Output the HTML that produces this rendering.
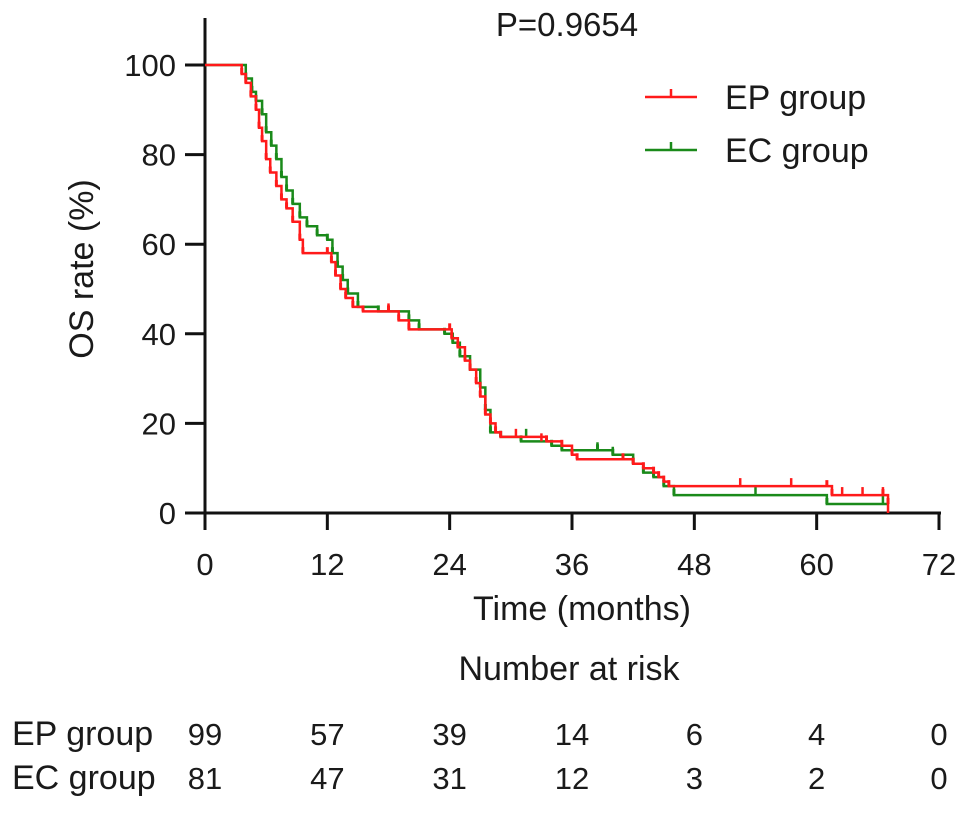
<!DOCTYPE html>
<html><head><meta charset="utf-8"><style>
body{margin:0;background:#fff}
svg text{font-family:"Liberation Sans",Arial,sans-serif;fill:#1a1a1a}
</style></head><body>
<svg width="969" height="810" viewBox="0 0 969 810" id="chart">
<text x="567" y="36" font-size="33" text-anchor="middle">P=0.9654</text>
<text transform="translate(93,269) rotate(-90)" font-size="34" text-anchor="middle">OS rate (%)</text>
<text x="582" y="620" font-size="34" text-anchor="middle">Time (months)</text>
<text x="569" y="680" font-size="34" text-anchor="middle">Number at risk</text>
<text x="12" y="745" font-size="34">EP group</text>
<text x="12" y="789" font-size="34">EC group</text>
<g id="axes"></g>
<g id="series"></g>
<g id="legend">
<line x1="645" y1="97" x2="697" y2="97" stroke="#ff1a1a" stroke-width="2.5"/>
<line x1="671" y1="89" x2="671" y2="97" stroke="#ff1a1a" stroke-width="2.5"/>
<text x="725" y="109" font-size="34">EP group</text>
<line x1="645" y1="150" x2="697" y2="150" stroke="#1a8a1a" stroke-width="2.5"/>
<line x1="671" y1="142" x2="671" y2="150" stroke="#1a8a1a" stroke-width="2.5"/>
<text x="725" y="162" font-size="34">EC group</text>
</g>
<g id="risk"></g>
</svg>
<script>
const xTicks=[0,12,24,36,48,60,72];
const yTicks=[0,20,40,60,80,100];
const epT=[0,3.3,3.6,4,4.5,5,5.3,5.6,6,6.4,7,7.5,8,8.6,9.3,9.6,12,12.4,12.8,13.3,13.8,14.5,15.5,18,19,20,24,24.2,24.8,25.5,26,26.6,27,27.5,28,28.5,29,33.5,35,36,36.5,41,42,43,44,44.5,45,45.5,61,61.5,66.5,67,67];
const epS=[100,100,98,96,93,90,86,83,79,76,73,70,68,65,61,58,58,56,53,50,48,46,45,45,43,41,41,39,37,34,32,29,26,22,20,18,17,16,15,13,12,12,11,10,9,8,7,6,6,4,4,2,0];
const ecT=[0,3.5,4,4.6,5,5.6,6,6.5,7,7.5,8,8.6,9.3,10,11,12,12.5,13,13.5,14,15,17,20,21,23.5,24.3,25,26,27,27.5,28,29,31,34,35,38.5,40,42,43,44,45,46,61,67];
const ecS=[100,100,97,94,92,89,85,82,79,75,72,69,66,64,62,61,58,55,52,49,46,45,43,41,40,38,35,32,28,23,18,17,16,15,14,14,13,11,9,8,6,4,2,2];
const epCens=[[18,45],[30.5,17],[33,16],[52.5,6],[57.5,6],[62.5,4],[64.5,4],[66.5,4]];
const ecCens=[[31.5,17],[38.5,14],[40,13],[54,4],[66.5,2]];
const riskEP=[99,57,39,14,6,4,0];
const riskEC=[81,47,31,12,3,2,0];
const NS="http://www.w3.org/2000/svg";
const X=t=>205+t*(939-205)/72, Y=s=>513-s*4.48;
function mk(tag,attrs,parent){const e=document.createElementNS(NS,tag);for(const k in attrs)e.setAttribute(k,attrs[k]);document.getElementById(parent).appendChild(e);return e;}
let e=mk('line',{x1:205,y1:513,x2:941,y2:513,stroke:'#111','stroke-width':3},'axes');


e=mk('line',{x1:205,y1:18,x2:205,y2:514,stroke:'#111','stroke-width':3},'axes');


xTicks.forEach((v,i)=>{
 mk('line',{x1:X(v),y1:513,x2:X(v),y2:530,stroke:'#111','stroke-width':3},'axes');
 const t=mk('text',{x:X(v),y:575,'font-size':31,'text-anchor':'middle'},'axes');t.textContent=v;
 
 
 [[riskEP,745],[riskEC,789]].forEach(([arr,y])=>{const r=mk('text',{x:X(v),y:y,'font-size':31,'text-anchor':'middle'},'risk');r.textContent=arr[i];
 
 });
});
yTicks.forEach(v=>{
 mk('line',{x1:185,y1:Y(v),x2:205,y2:Y(v),stroke:'#111','stroke-width':3},'axes');
 const t=mk('text',{x:176,y:Y(v)+11,'font-size':31,'text-anchor':'end'},'axes');t.textContent=v;
 
 
});
function curve(T,S,cens,col,name){
 let d='M'+X(T[0])+','+Y(S[0]);
 for(let i=1;i<T.length;i++){d+='H'+X(T[i])+'V'+Y(S[i]);}
 const p=mk('path',{d:d,fill:'none',stroke:col,'stroke-width':2.5},'series');
 
 
 for(let i=2;i<T.length-1;i++){mk('line',{x1:X(T[i]),y1:Y(S[i])-6,x2:X(T[i]),y2:Y(S[i]),stroke:col,'stroke-width':3},'series');}
 cens.forEach(c=>{const l=mk('line',{x1:X(c[0]),y1:Y(c[1])-8,x2:X(c[0]),y2:Y(c[1]),stroke:col,'stroke-width':2.5},'series');
 
 });
}
curve(ecT,ecS,ecCens,'#1a8a1a','ec-curve');
curve(epT,epS,epCens,'#ff1a1a','ep-curve');
</script>
</body></html>
